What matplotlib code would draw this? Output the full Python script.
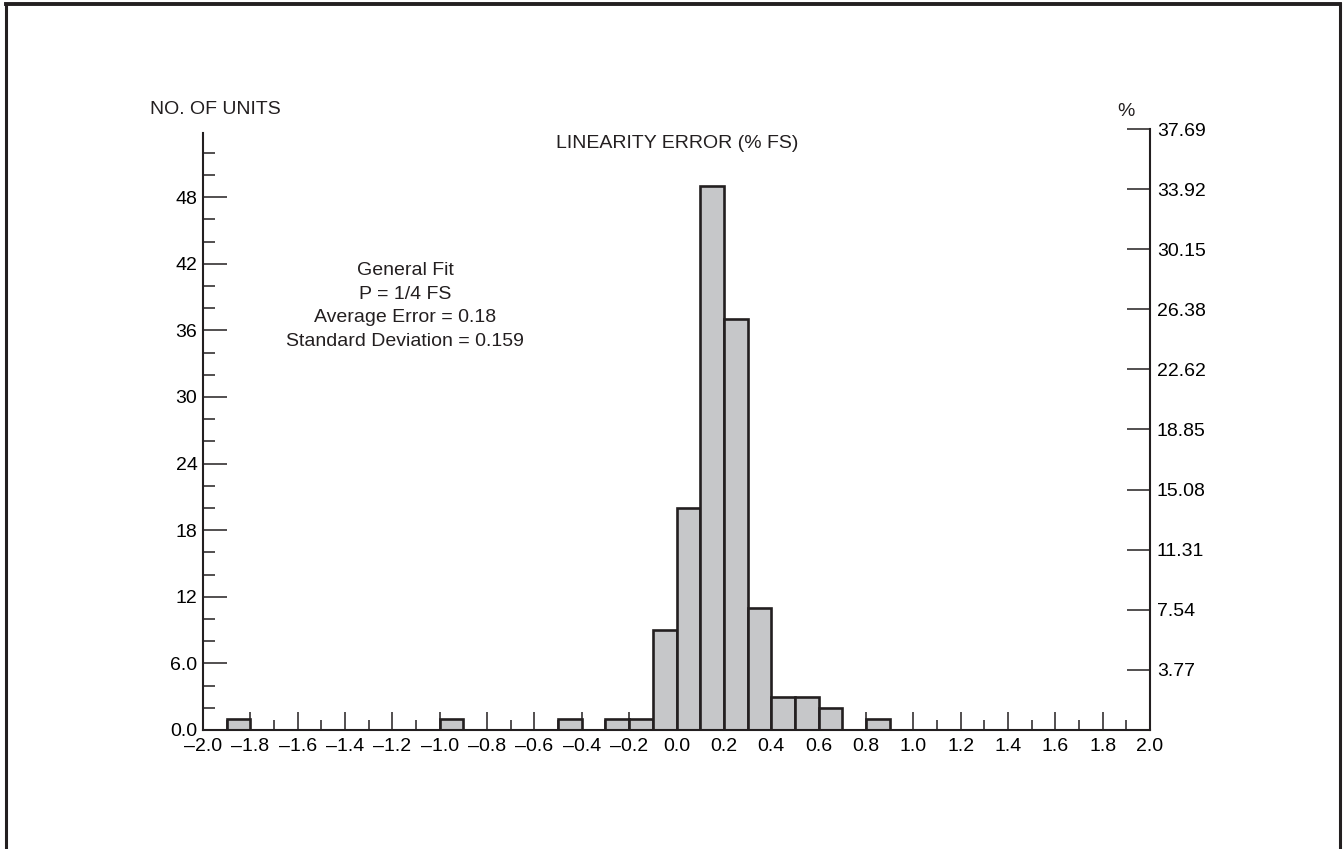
import matplotlib.pyplot as plt
from matplotlib.lines import Line2D
import numpy as np

# histogram of linearity error, bins are 0.1 %FS wide
bin_left = [-1.9, -1.0, -0.5, -0.3, -0.2, -0.1, 0.0, 0.1, 0.2, 0.3, 0.4, 0.5, 0.6, 0.8]
counts = [1, 1, 1, 1, 1, 9, 20, 49, 37, 11, 3, 3, 2, 1]
bin_width = 0.1

count_ticks = [0, 6, 12, 18, 24, 30, 36, 42, 48]
count_labels = ['0.0', '6.0', '12', '18', '24', '30', '36', '42', '48']
pct_ticks = [3.77, 7.54, 11.31, 15.08, 18.85, 22.62, 26.38, 30.15, 33.92, 37.69]
x_ticks = np.round(np.arange(-2.0, 2.01, 0.2), 1)

ink = '#231f20'
plt.rcParams['font.family'] = ['Liberation Sans', 'DejaVu Sans']
plt.rcParams['font.size'] = 14
plt.rcParams['text.color'] = ink

W, H = 1343, 849
fig = plt.figure(figsize=(W / 100, H / 100), dpi=100)

# axes box in pixels: left 203, right 1150, baseline 730, top 129
ax = fig.add_axes([203 / W, 1 - 730 / H, (1150 - 203) / W, 601 / H])
ax.bar(bin_left, counts, width=bin_width, align='edge',
       facecolor='#c6c7c9', edgecolor=ink, linewidth=1.9, zorder=2)

ax.set_xlim(-2.0, 2.0)
ax.set_ylim(0, 601 / 11.1)
ax.set_axisbelow(True)

for s in ['top', 'right']:
    ax.spines[s].set_visible(False)
for s in ['left', 'bottom']:
    ax.spines[s].set_color(ink)
    ax.spines[s].set_linewidth(1.5)
ax.spines['left'].set_bounds(0, 53.8)

ax.set_yticks(count_ticks)
ax.set_yticklabels(count_labels)
ax.set_yticks(np.arange(2, 53, 2), minor=True)
ax.set_xticks(x_ticks)
ax.set_xticklabels([('\u2013' if v < 0 else '') + '%.1f' % abs(v) for v in x_ticks])
ax.set_xticks(np.round(np.arange(-1.9, 2.0, 0.2), 1), minor=True)

# tick lengths in points (px * 0.72)
ax.tick_params(axis='y', which='major', direction='in', length=17, width=1.1,
               color=ink, pad=4, labelsize=14)
ax.tick_params(axis='y', which='minor', direction='in', length=8.8, width=1.1, color=ink)
ax.tick_params(axis='x', which='major', direction='in', length=13, width=1.1,
               color=ink, pad=6, labelsize=14)
ax.tick_params(axis='x', which='minor', direction='in', length=7.2, width=1.1, color=ink)

# percent scale on the right
ax2 = ax.twinx()
ax2.set_ylim(0, 37.69)
for s in ['top', 'left', 'bottom']:
    ax2.spines[s].set_visible(False)
ax2.spines['right'].set_color(ink)
ax2.spines['right'].set_linewidth(1.5)
ax2.set_yticks(pct_ticks)
ax2.set_yticklabels(['%.2f' % v for v in pct_ticks])
ax2.tick_params(axis='y', direction='in', length=16.5, width=1.1, color=ink,
                pad=5, labelsize=14)

# texts
fig.text(150 / W, 1 - 110 / H, 'NO. OF UNITS', ha='left', va='center', fontsize=14)
fig.text(1126 / W, 1 - 112 / H, '%', ha='center', va='center', fontsize=14)
fig.text(677 / W, 1 - 143 / H, 'LINEARITY ERROR (% FS)', ha='center', va='center', fontsize=14)
fig.text(405 / W, 1 - 306 / H,
         'General Fit\nP = 1/4 FS\nAverage Error = 0.18\nStandard Deviation = 0.159',
         ha='center', va='center', fontsize=14, linespacing=1.52)

# outer frame (top, left, right)
fig.add_artist(Line2D([6 / W, 6 / W], [0, 1 - 4 / H], color=ink, lw=2.2))
fig.add_artist(Line2D([1340 / W, 1340 / W], [0, 1 - 4 / H], color=ink, lw=2.2))
fig.add_artist(Line2D([6 / W, 1340 / W], [1 - 4 / H, 1 - 4 / H], color=ink, lw=2.8))

fig.savefig('out.png', dpi=100)
